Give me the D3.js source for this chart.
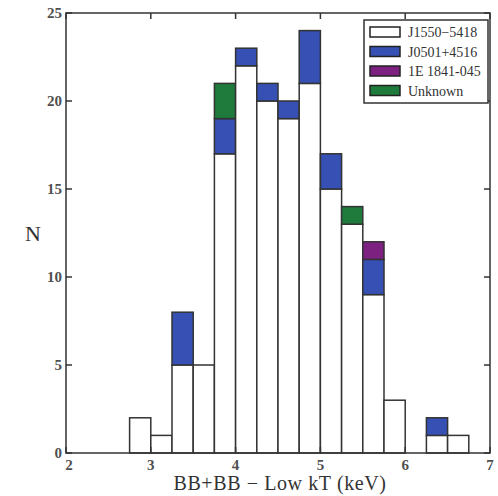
<!DOCTYPE html>
<html><head><meta charset="utf-8">
<script src="https://cdn.jsdelivr.net/npm/d3@7"></script>
<style>body{margin:0;background:#fff}svg{display:block}svg text{font-family:"Liberation Serif","DejaVu Serif",serif}</style>
</head><body>
<svg id="c" width="498" height="496"></svg>
<script>
const binStarts = [2.75,3.0,3.25,3.5,3.75,4.0,4.25,4.5,4.75,5.0,5.25,5.5,5.75,6.0,6.25,6.5];
const binWidth = 0.25;
const j1550 = [2,1,5,5,17,22,20,19,21,15,13,9,3,0,1,1];
const j0501 = [0,0,3,0,2,1,1,1,3,2,0,2,0,0,1,0];
const e1841 = [0,0,0,0,0,0,0,0,0,0,0,1,0,0,0,0];
const unknown = [0,0,0,0,2,0,0,0,0,0,1,0,0,0,0,0];
const seriesNames = ["J1550\u22125418","J0501+4516","1E 1841-045","Unknown"];
const seriesColors = ["#ffffff","#3651b3","#7d2180","#1e7b3c"];
const xTicks = [2,3,4,5,6,7];
const yTicks = [0,5,10,15,20,25];

const svg = d3.select("#c");
const L=66,R=490,T=13,B=453;
const x = d3.scaleLinear().domain([2,7]).range([L,R]);
const y = d3.scaleLinear().domain([0,25]).range([B,T]);
const series=[j1550,j0501,e1841,unknown];

const g = svg.append("g");
binStarts.forEach((b,i)=>{
  let base=0;
  series.forEach((s,k)=>{
    const v=s[i];
    if(v>0){
      g.append("rect").attr("x",x(b)).attr("width",x(b+binWidth)-x(b))
       .attr("y",y(base+v)).attr("height",y(base)-y(base+v))
       .attr("fill",seriesColors[k]).attr("stroke","#333").attr("stroke-width",1.5);
    }
    base+=v;
  });
});

svg.append("rect").attr("x",L).attr("y",T).attr("width",R-L).attr("height",B-T)
  .attr("fill","none").attr("stroke","#333").attr("stroke-width",1.5);

const tickStyle = sel=>sel.attr("stroke","#333").attr("stroke-width",1.5);
xTicks.forEach(t=>{
  tickStyle(svg.append("line").attr("x1",x(t)).attr("x2",x(t)).attr("y1",B).attr("y2",B-6));
  tickStyle(svg.append("line").attr("x1",x(t)).attr("x2",x(t)).attr("y1",T).attr("y2",T+6));
  svg.append("text").attr("x",x(t)+(t===2?3:0)).attr("y",B+17).attr("text-anchor","middle")
    .style("font-size","15px").style("font-weight","bold").attr("fill","#505050").text(t);
});
yTicks.forEach(t=>{
  tickStyle(svg.append("line").attr("x1",L).attr("x2",L+6).attr("y1",y(t)).attr("y2",y(t)));
  tickStyle(svg.append("line").attr("x1",R).attr("x2",R-6).attr("y1",y(t)).attr("y2",y(t)));
  svg.append("text").attr("x",L-4).attr("y",y(t)+5).attr("text-anchor","end")
    .style("font-size","15px").style("font-weight","bold").attr("fill","#505050").text(t);
});

svg.append("text").attr("x",280).attr("y",490).attr("text-anchor","middle")
  .style("font-size","20px").style("letter-spacing","0.6px").attr("fill","#333").text("BB+BB \u2212 Low kT (keV)");
svg.append("text").attr("x",33).attr("y",(T+B)/2+8).attr("text-anchor","middle")
  .style("font-size","22px").attr("fill","#333").text("N");

const lg = svg.append("g");
lg.append("rect").attr("x",364).attr("y",20).attr("width",124).attr("height",83)
  .attr("fill","#fff").attr("stroke","#333").attr("stroke-width",1.5);
seriesNames.forEach((n,k)=>{
  const yy = 32 + k*19.5;
  lg.append("rect").attr("x",370).attr("y",yy-5).attr("width",30).attr("height",10)
    .attr("fill",seriesColors[k]).attr("stroke","#222").attr("stroke-width",1.5);
  lg.append("text").attr("x",408).attr("y",yy+5).style("font-size","14px")
    .attr("fill","#333").text(n);
});
</script>
</body></html>
